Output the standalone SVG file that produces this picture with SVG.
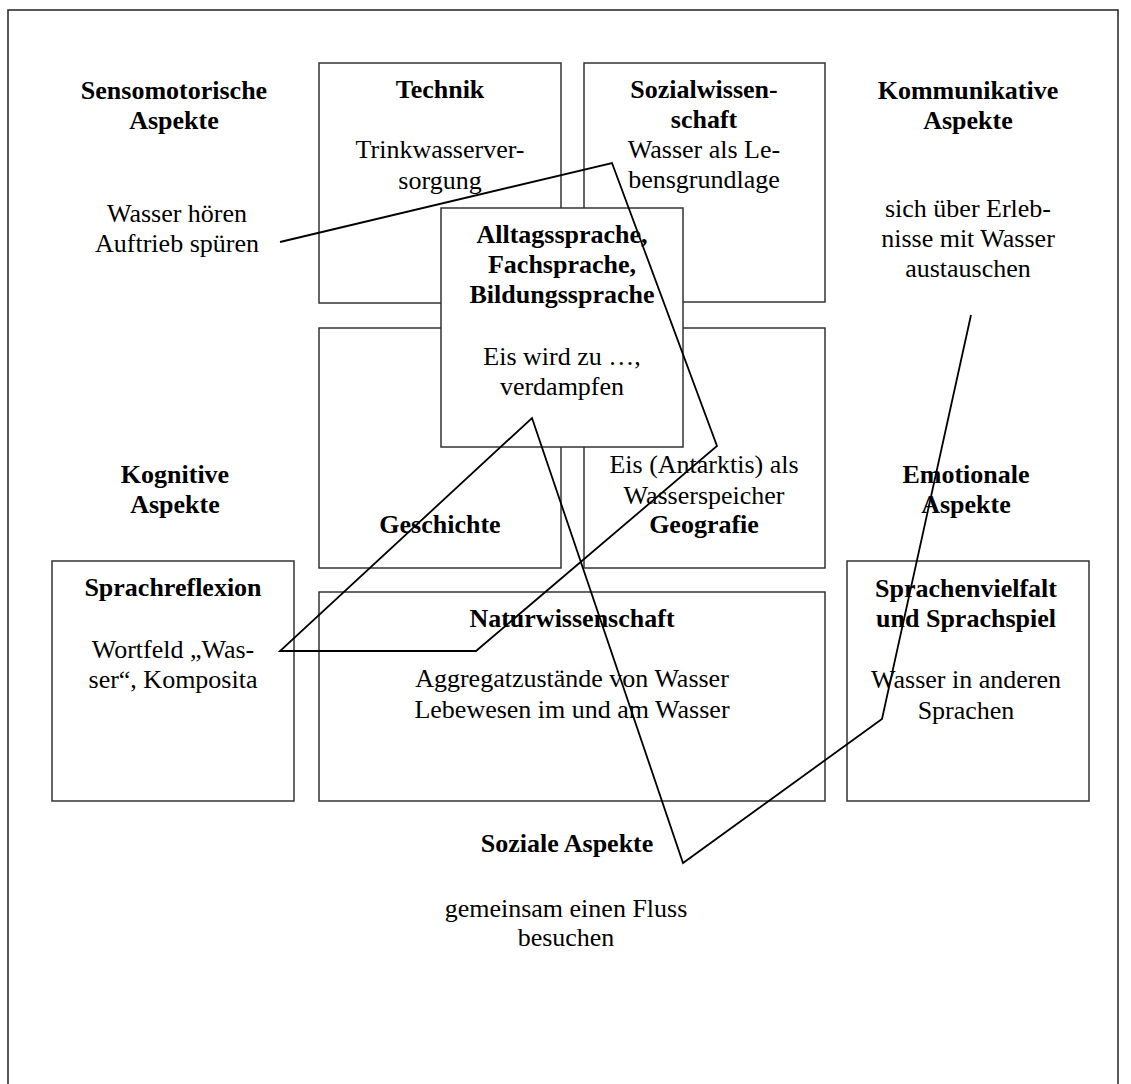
<svg xmlns="http://www.w3.org/2000/svg" width="1131" height="1084" viewBox="0 0 1131 1084">
<style>
text{font-family:"Liberation Serif","Times New Roman",serif;font-size:26px;fill:#000;text-anchor:middle}
.b{font-weight:bold}
.box{fill:#fff;stroke:#333;stroke-width:1.5}
.frame{fill:none;stroke:#222;stroke-width:1.5}
.conn{fill:none;stroke:#000;stroke-width:1.8;stroke-linejoin:miter}
</style>
<rect x="0" y="0" width="1131" height="1084" fill="#fff"/>
<rect class="frame" x="8" y="10" width="1110" height="1100"/>
<g id="sensomotorisch">
<text class="b" x="174" y="99">Sensomotorische</text>
<text class="b" x="174" y="129">Aspekte</text>
<text x="177" y="222">Wasser hören</text>
<text x="177" y="252">Auftrieb spüren</text>
</g>
<g id="kommunikativ">
<text class="b" x="968" y="99">Kommunikative</text>
<text class="b" x="968" y="129">Aspekte</text>
<text x="968" y="217">sich über Erleb-</text>
<text x="968" y="247">nisse mit Wasser</text>
<text x="968" y="277">austauschen</text>
</g>
<g id="kognitiv">
<text class="b" x="175" y="483">Kognitive</text>
<text class="b" x="175" y="513">Aspekte</text>
</g>
<g id="emotional">
<text class="b" x="966" y="483">Emotionale</text>
<text class="b" x="966" y="513">Aspekte</text>
</g>
<g id="sozial">
<text class="b" x="567" y="852">Soziale Aspekte</text>
<text x="566" y="917">gemeinsam einen Fluss</text>
<text x="566" y="946">besuchen</text>
</g>
<g id="technik">
<rect class="box" x="319" y="63" width="242" height="240"/>
<text class="b" x="440" y="98">Technik</text>
<text x="440" y="158">Trinkwasserver-</text>
<text x="440" y="189">sorgung</text>
</g>
<g id="sozialwissenschaft">
<rect class="box" x="584" y="63" width="241" height="239"/>
<text class="b" x="704" y="98">Sozialwissen-</text>
<text class="b" x="704" y="128">schaft</text>
<text x="704" y="158">Wasser als Le-</text>
<text x="704" y="188">bensgrundlage</text>
</g>
<g id="geschichte">
<rect class="box" x="319" y="328" width="242" height="240"/>
<text class="b" x="440" y="533">Geschichte</text>
</g>
<g id="geografie">
<rect class="box" x="584" y="328" width="241" height="240"/>
<text x="704" y="473">Eis (Antarktis) als</text>
<text x="704" y="504">Wasserspeicher</text>
<text class="b" x="704" y="533">Geografie</text>
</g>
<g id="sprache">
<rect class="box" x="441" y="208" width="242" height="239"/>
<text class="b" x="562" y="243">Alltagssprache,</text>
<text class="b" x="562" y="273">Fachsprache,</text>
<text class="b" x="562" y="303">Bildungssprache</text>
<text x="562" y="365">Eis wird zu …,</text>
<text x="562" y="395">verdampfen</text>
</g>
<g id="sprachreflexion">
<rect class="box" x="52" y="561" width="242" height="240"/>
<text class="b" x="173" y="596">Sprachreflexion</text>
<text x="173" y="658">Wortfeld „Was-</text>
<text x="173" y="688">ser“, Komposita</text>
</g>
<g id="naturwissenschaft">
<rect class="box" x="319" y="592" width="506" height="209"/>
<text class="b" x="572" y="627">Naturwissenschaft</text>
<text x="572" y="687">Aggregatzustände von Wasser</text>
<text x="572" y="718">Lebewesen im und am Wasser</text>
</g>
<g id="sprachenvielfalt">
<rect class="box" x="847" y="561" width="242" height="240"/>
<text class="b" x="966" y="597">Sprachenvielfalt</text>
<text class="b" x="966" y="627">und Sprachspiel</text>
<text x="966" y="688">Wasser in anderen</text>
<text x="966" y="719">Sprachen</text>
</g>
<g id="connectors">
<polyline class="conn" points="280,242 612,163 717,446 476,651 280,651 532,418 683,863 882,719 971,315"/>
</g>
</svg>
